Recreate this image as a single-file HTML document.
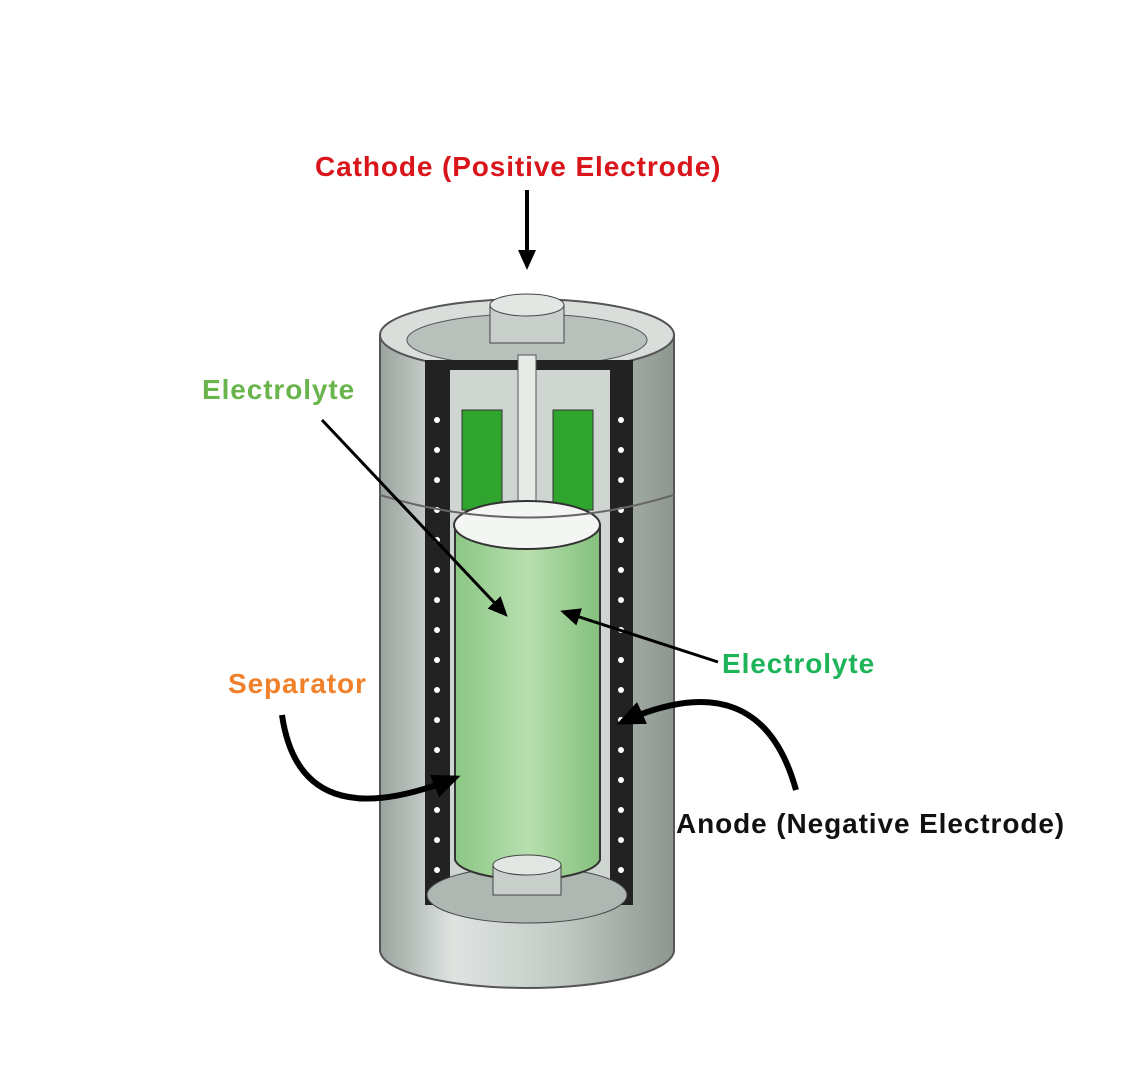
<!DOCTYPE html>
<html><head><meta charset="utf-8"><style>
body{margin:0;background:#fff;width:1124px;height:1076px;overflow:hidden;position:relative;font-family:"Liberation Sans",sans-serif}
.l{position:absolute;font-weight:bold;font-size:28px;white-space:nowrap;letter-spacing:0.9px}
</style></head><body>
<svg width="1124" height="1076" style="position:absolute;left:0;top:0">
<defs>
<linearGradient id="m" x1="0" x2="1"><stop offset="0" stop-color="#9aa39e"/><stop offset=".25" stop-color="#dfe4e1"/><stop offset=".6" stop-color="#c3cbc6"/><stop offset="1" stop-color="#8d968f"/></linearGradient>
<linearGradient id="g" x1="0" x2="1"><stop offset="0" stop-color="#8cc785"/><stop offset=".5" stop-color="#b7dfae"/><stop offset="1" stop-color="#84c07c"/></linearGradient>
<marker id="a" markerUnits="userSpaceOnUse" markerWidth="22" markerHeight="22" refX="16" refY="11" orient="auto"><path d="M0,2 L20,11 L0,20z" fill="#000"/></marker>
<marker id="b" markerUnits="userSpaceOnUse" markerWidth="30" markerHeight="30" refX="22" refY="15" orient="auto"><path d="M0,3 L28,15 L0,27z" fill="#000"/></marker>
</defs>
<path d="M380,335 L380,950 A147,38 0 0 0 674,950 L674,335 Z" fill="url(#m)" stroke="#555" stroke-width="2"/>
<ellipse cx="527" cy="335" rx="147" ry="36" fill="#d9dedb" stroke="#555" stroke-width="2"/>
<ellipse cx="527" cy="340" rx="120" ry="26" fill="#b8c0bb" stroke="#555"/>
<path d="M425,360 L425,905 L633,905 L633,360 Z" fill="#222"/>
<path d="M450,370 L450,895 L610,895 L610,370 Z" fill="#cfd6d2"/>
<g fill="#fff">
<circle cx="437" cy="420" r="3"/><circle cx="437" cy="450" r="3"/><circle cx="437" cy="480" r="3"/><circle cx="437" cy="510" r="3"/><circle cx="437" cy="540" r="3"/><circle cx="437" cy="570" r="3"/><circle cx="437" cy="600" r="3"/><circle cx="437" cy="630" r="3"/><circle cx="437" cy="660" r="3"/><circle cx="437" cy="690" r="3"/><circle cx="437" cy="720" r="3"/><circle cx="437" cy="750" r="3"/><circle cx="437" cy="780" r="3"/><circle cx="437" cy="810" r="3"/><circle cx="437" cy="840" r="3"/><circle cx="437" cy="870" r="3"/>
<circle cx="621" cy="420" r="3"/><circle cx="621" cy="450" r="3"/><circle cx="621" cy="480" r="3"/><circle cx="621" cy="510" r="3"/><circle cx="621" cy="540" r="3"/><circle cx="621" cy="570" r="3"/><circle cx="621" cy="600" r="3"/><circle cx="621" cy="630" r="3"/><circle cx="621" cy="660" r="3"/><circle cx="621" cy="690" r="3"/><circle cx="621" cy="720" r="3"/><circle cx="621" cy="750" r="3"/><circle cx="621" cy="780" r="3"/><circle cx="621" cy="810" r="3"/><circle cx="621" cy="840" r="3"/><circle cx="621" cy="870" r="3"/>
</g>
<rect x="462" y="410" width="40" height="100" fill="#2fa52f" stroke="#333"/>
<rect x="553" y="410" width="40" height="100" fill="#2fa52f" stroke="#333"/>
<rect x="518" y="355" width="18" height="150" fill="#e6ebe8" stroke="#555"/>
<ellipse cx="527" cy="895" rx="100" ry="28" fill="#aeb7b2" stroke="#444"/>
<path d="M455,525 L455,860 A73,22 0 0 0 600,860 L600,525 Z" fill="url(#g)" stroke="#333" stroke-width="2"/>
<ellipse cx="527" cy="525" rx="73" ry="24" fill="#f4f6f4" stroke="#333" stroke-width="2"/>
<rect x="493" y="865" width="68" height="30" fill="#c9d0cc" stroke="#444"/>
<ellipse cx="527" cy="865" rx="34" ry="10" fill="#e3e7e4" stroke="#444"/>
<rect x="490" y="305" width="74" height="38" fill="#c9d0cc" stroke="#444"/>
<ellipse cx="527" cy="305" rx="37" ry="11" fill="#e3e7e4" stroke="#444"/>
<path d="M380,495 Q527,540 674,495" fill="none" stroke="#666" stroke-width="2"/>
<line x1="527" y1="190" x2="527" y2="266" stroke="#000" stroke-width="4" marker-end="url(#a)"/>
<line x1="322" y1="420" x2="505" y2="614" stroke="#000" stroke-width="3" marker-end="url(#a)"/>
<line x1="718" y1="662" x2="564" y2="612" stroke="#000" stroke-width="3" marker-end="url(#a)"/>
<path d="M282,715 Q300,840 455,778" fill="none" stroke="#000" stroke-width="6" marker-end="url(#b)"/>
<path d="M796,790 Q760,660 622,722" fill="none" stroke="#000" stroke-width="6" marker-end="url(#b)"/>
</svg>
<div class="l" style="left:315px;top:151px;color:#d9141a">Cathode (Positive Electrode)</div>
<div class="l" style="left:202px;top:374px;color:#6ab44e">Electrolyte</div>
<div class="l" style="left:722px;top:648px;color:#1db45a">Electrolyte</div>
<div class="l" style="left:228px;top:668px;color:#f0802a">Separator</div>
<div class="l" style="left:676px;top:808px;color:#111">Anode (Negative Electrode)</div>
</body></html>
